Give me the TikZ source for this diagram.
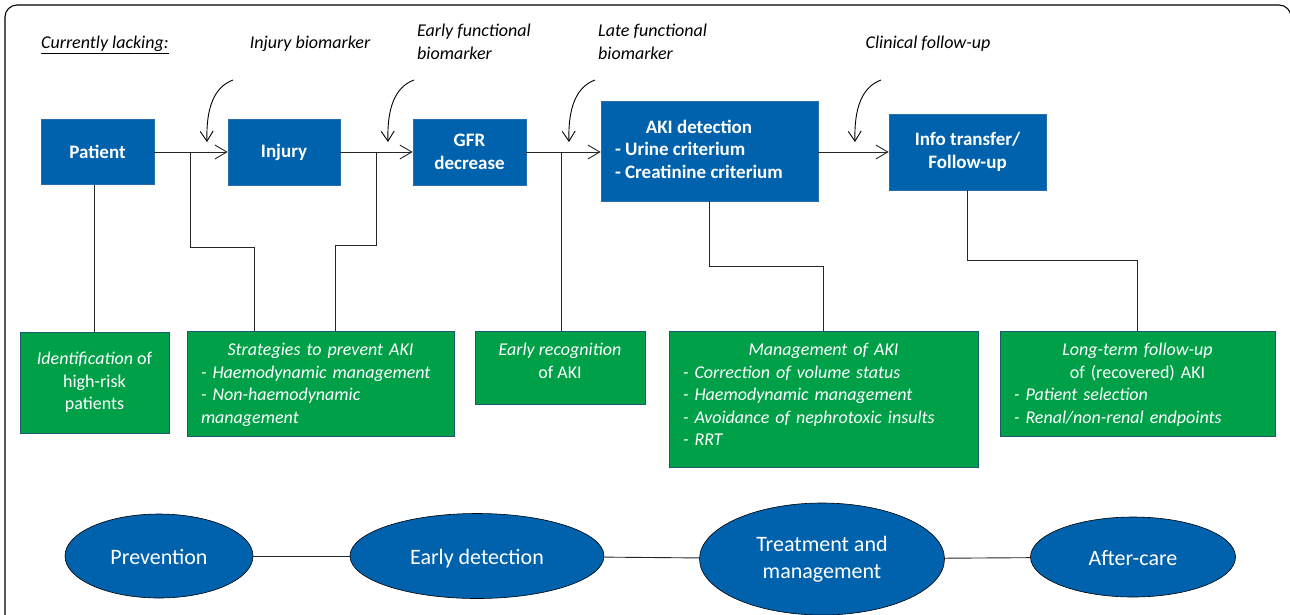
\documentclass[tikz,border=0pt]{standalone}
\usepackage{fontspec}
\setmainfont{Carlito}
\usetikzlibrary{arrows.meta,shapes.geometric}
\definecolor{bblue}{RGB}{0,98,172}
\definecolor{ggreen}{RGB}{0,160,72}
\definecolor{bline}{RGB}{40,110,170}
\definecolor{gline}{RGB}{30,90,110}
\newcommand\akifs{\fontsize{18}{22.5}\selectfont}
\newcommand\akibf{\fontsize{19}{22.5}\selectfont}
\newcommand\akifb{\fontsize{22}{27}\selectfont}
\begin{document}
\begin{tikzpicture}[x=1pt,y=-1pt,
  bluebox/.style={draw=bline, fill=bblue, text=white, font=\akibf\bfseries, align=center, inner sep=0pt, line width=0.6pt},
  greenbox/.style={draw=gline, fill=ggreen, line width=0.6pt, inner sep=0pt},
  gtext/.style={text=white, anchor=north, inner sep=0pt, align=left, font=\akifs\itshape},
  oval/.style={ellipse, draw=black, fill=bblue, text=white, font=\akifb, align=center, inner sep=0pt, line width=0.6pt},
  oneline/.style={text height=19pt, text depth=2pt},
  link/.style={draw=black!85, line width=0.9pt},
  arr/.style={link, -{Straight Barb[length=12pt,width=14pt]}},
  carr/.style={draw=black, line width=0.9pt, -{Straight Barb[length=10pt,width=13pt]}},
  lbl/.style={font=\akifs\itshape, inner sep=0pt, align=left}
]
\useasboundingbox (0,0) rectangle (1290,614);
% frame
\draw[line width=1.1pt, rounded corners=12pt] (5,660) -- (5,5) -- (1291,5) -- (1291,660);

% top labels
\node[lbl, anchor=west] (lack) at (41,45) {\underline{Currently lacking:}};
\node[lbl] (ibm) at (310,44) {Injury biomarker};
\node[lbl, anchor=west] (efb) at (417,42) {Early functional\\biomarker};
\node[lbl, anchor=west] (lfb) at (598,42) {Late functional\\biomarker};
\node[lbl] (cfu) at (928,44) {Clinical follow-up};

% blue boxes
\node[bluebox, minimum width=113pt, minimum height=65pt] (patient) at (97.5,152) {Patient};
\node[bluebox, minimum width=112pt, minimum height=66pt] (injury) at (284,152) {Injury};
\node[bluebox, minimum width=113pt, minimum height=66pt] (gfr) at (469.5,152) {GFR\\decrease};
\node[bluebox, minimum width=217pt, minimum height=100pt] (aki) at (709.5,151)
  {\makebox[189pt][l]{\begin{tabular}{@{}l@{}}\multicolumn{1}{@{}c@{}}{AKI detection}\\- Urine criterium\\- Creatinine criterium\end{tabular}}};
\node[bluebox, minimum width=157pt, minimum height=76pt] (info) at (967.5,152) {Info transfer/\\Follow-up};

% green boxes
\node[greenbox, text=white, font=\akifs, align=center, minimum width=149pt, minimum height=101pt] (ident) at (94.5,382.5)
  {\textit{Identification} of\\high-risk\\patients};
\node[greenbox, minimum width=267pt, minimum height=105pt] (strat) at (320.5,383.5) {};
\node[greenbox, minimum width=170pt, minimum height=73pt] (early) at (560,367.5) {};
\node[greenbox, minimum width=309pt, minimum height=136pt] (mgmt) at (823.5,399) {};
\node[greenbox, minimum width=275pt, minimum height=105pt] (long) at (1137.5,383.5) {};

\node[gtext, text width=239pt] (stratt) at ([yshift=-9pt]strat.north)
  {\makebox[\linewidth]{\strut Strategies to prevent AKI}\\- Haemodynamic management\\- Non-haemodynamic\\management};
\node[gtext, align=center] (earlyt) at ([yshift=-9pt]early.north)
  {\strut Early recognition\\\upshape of AKI};
\node[gtext, text width=281pt] (mgmtt) at ([yshift=-9pt]mgmt.north)
  {\makebox[\linewidth]{\strut Management of AKI}\\- Correction of volume status\\- Haemodynamic management\\- Avoidance of nephrotoxic insults\\- RRT};
\node[gtext, text width=247pt] (longt) at ([yshift=-9pt]long.north)
  {\makebox[\linewidth]{\strut Long-term follow-up}\\\makebox[\linewidth]{\upshape of (recovered) AKI}\\- Patient selection\\- Renal/non-renal endpoints};

% main flow arrows
\draw[arr] (patient.east) -- (injury.west);
\draw[arr] (injury.east) -- (gfr.west);
\draw[arr] (gfr.east) -- (gfr.east -| aki.west);
\draw[arr] (aki.east |- info.west) -- (info.west);

% branch connectors
\coordinate (j1) at (190,152);
\coordinate (k1) at (254,247);
\coordinate (j2) at (376,152);
\coordinate (k2) at (335,245);
\coordinate (j3) at (561,152);
\coordinate (k3) at (823.5,266);
\coordinate (k4) at (1137.5,260);
\draw[link] (ident.north) -- (ident.north |- patient.south);
\draw[link] (j1) |- (k1) -- (k1 |- strat.north);
\draw[link] (j2) |- (k2) -- (k2 |- strat.north);
\draw[link] (j3) -- (j3 |- early.north);
\draw[link] (aki.south) |- (k3) -- (mgmt.north);
\draw[link] (info.south) |- (k4) -- (long.north);

% curved arrows
\coordinate (c1s) at (233,80);  \coordinate (c1e) at (207,142);
\coordinate (c2s) at (414,80);  \coordinate (c2e) at (388,142);
\coordinate (c3s) at (595,80);  \coordinate (c3e) at (569,142);
\coordinate (c4s) at (881,80);  \coordinate (c4e) at (855,142);
\draw[carr] (c1s) .. controls (214,87) and (206,108) .. (c1e);
\draw[carr] (c2s) .. controls (395,87) and (387,108) .. (c2e);
\draw[carr] (c3s) .. controls (576,87) and (568,108) .. (c3e);
\draw[carr] (c4s) .. controls (862,87) and (854,108) .. (c4e);

% bottom ellipses
\node[oval, oneline, minimum width=188pt, minimum height=84pt] (prev) at (159,556) {Prevention};
\node[oval, oneline, minimum width=254pt, minimum height=85pt] (edet) at (477,556) {Early detection};
\node[oval, minimum width=245pt, minimum height=112pt] (treat) at (822,559) {Treatment and\\management};
\node[oval, oneline, minimum width=205pt, minimum height=80pt] (after) at (1133,557) {After-care};
\draw[link] (prev) -- (edet);
\draw[link] (edet) -- (treat);
\draw[link] (treat) -- (after);
\end{tikzpicture}
\end{document}
